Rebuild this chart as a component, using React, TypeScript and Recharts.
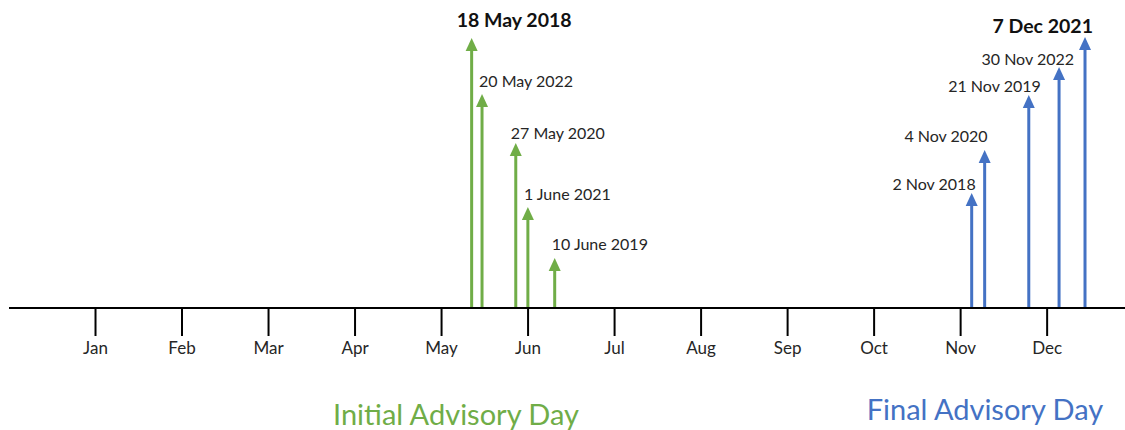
import { Bar, BarChart, XAxis, YAxis } from "recharts";

const months = ["Jan", "Feb", "Mar", "Apr", "May", "Jun", "Jul", "Aug", "Sep", "Oct", "Nov", "Dec"];
const monthTicks = [1, 2, 3, 4, 5, 6, 7, 8, 9, 10, 11, 12];

// x: position in months (1 = start of Jan), h: arrow height
const initialLabels = ["18 May 2018", "20 May 2022", "27 May 2020", "1 June 2021", "10 June 2019"];
const initialPos = [5.35, 5.47, 5.86, 6.0, 6.31];
const initialHeights = [270, 214, 165, 101, 50];

const finalLabels = ["2 Nov 2018", "4 Nov 2020", "21 Nov 2019", "30 Nov 2022", "7 Dec 2021"];
const finalPos = [11.13, 11.28, 11.79, 12.14, 12.44];
const finalHeights = [115, 158, 213, 241, 271];

const boldLabels = ["18 May 2018", "7 Dec 2021"];

const GREEN = "#70ad47";
const BLUE = "#4472c4";
const FONT = "Lato, 'Open Sans', sans-serif";

// label placement tweaks relative to arrow tip
const labelNudge: Record<string, [number, number]> = {
  "18 May 2018": [-15, -19],
  "20 May 2022": [-3, -14],
  "27 May 2020": [-5, -11],
  "1 June 2021": [-4, -14],
  "10 June 2019": [-3, -15],
  "2 Nov 2018": [4, -10],
  "4 Nov 2020": [3, -15],
  "21 Nov 2019": [12, -10],
  "30 Nov 2022": [15, -9],
  "7 Dec 2021": [8, -12],
};

const data = [
  ...initialLabels.map((label, i) => ({ label, x: initialPos[i], h: initialHeights[i], kind: "initial" })),
  ...finalLabels.map((label, i) => ({ label, x: finalPos[i], h: finalHeights[i], kind: "final" })),
];

function Arrow(props: any) {
  const { x, y, width, height, payload } = props;
  if (!payload || height <= 0) return null;
  const cx = x + width / 2;
  const base = y + height;
  const color = payload.kind === "initial" ? GREEN : BLUE;
  const bold = boldLabels.includes(payload.label);
  const [dx, dy] = labelNudge[payload.label] ?? [0, -12];
  return (
    <g>
      <line x1={cx} y1={base} x2={cx} y2={y + 11} stroke={color} strokeWidth={3} />
      <path d={`M${cx},${y} L${cx - 6},${y + 13} L${cx + 6},${y + 13} Z`} fill={color} />
      <text
        x={cx + dx}
        y={y + dy}
        textAnchor={payload.kind === "initial" ? "start" : "end"}
        dominantBaseline="central"
        fontFamily={FONT}
        fontSize={bold ? 19.5 : 16}
        fontWeight={bold ? 700 : 400}
        fill={bold ? "#111" : "#262626"}
      >
        {payload.label}
      </text>
    </g>
  );
}

export default function App() {
  return (
    <div style={{ position: "absolute", left: 0, top: 0, width: 1125, height: 430, background: "#fff" }}>
      <BarChart width={1125} height={430} data={data} margin={{ top: 8, right: 0, left: 9, bottom: 62 }}>
        <XAxis
          dataKey="x"
          type="number"
          domain={[0, 12.9]}
          ticks={monthTicks}
          tickFormatter={(v: number) => months[v - 1]}
          height={60}
          tickSize={28}
          tickMargin={6}
          axisLine={{ stroke: "#000", strokeWidth: 2 }}
          tickLine={{ stroke: "#000", strokeWidth: 2 }}
          tick={{ fill: "#262626", fontSize: 17, fontFamily: FONT }}
          allowDataOverflow
        />
        <YAxis hide domain={[0, 300]} />
        <Bar dataKey="h" barSize={10} shape={Arrow} isAnimationActive={false} />
      </BarChart>
      <div
        style={{
          position: "absolute",
          left: 456,
          top: 413,
          transform: "translate(-50%, -50%)",
          color: GREEN,
          fontFamily: FONT,
          fontSize: 29,
          whiteSpace: "nowrap",
        }}
      >
        Initial Advisory Day
      </div>
      <div
        style={{
          position: "absolute",
          left: 985,
          top: 408,
          transform: "translate(-50%, -50%)",
          color: BLUE,
          fontFamily: FONT,
          fontSize: 29,
          whiteSpace: "nowrap",
        }}
      >
        Final Advisory Day
      </div>
    </div>
  );
}
